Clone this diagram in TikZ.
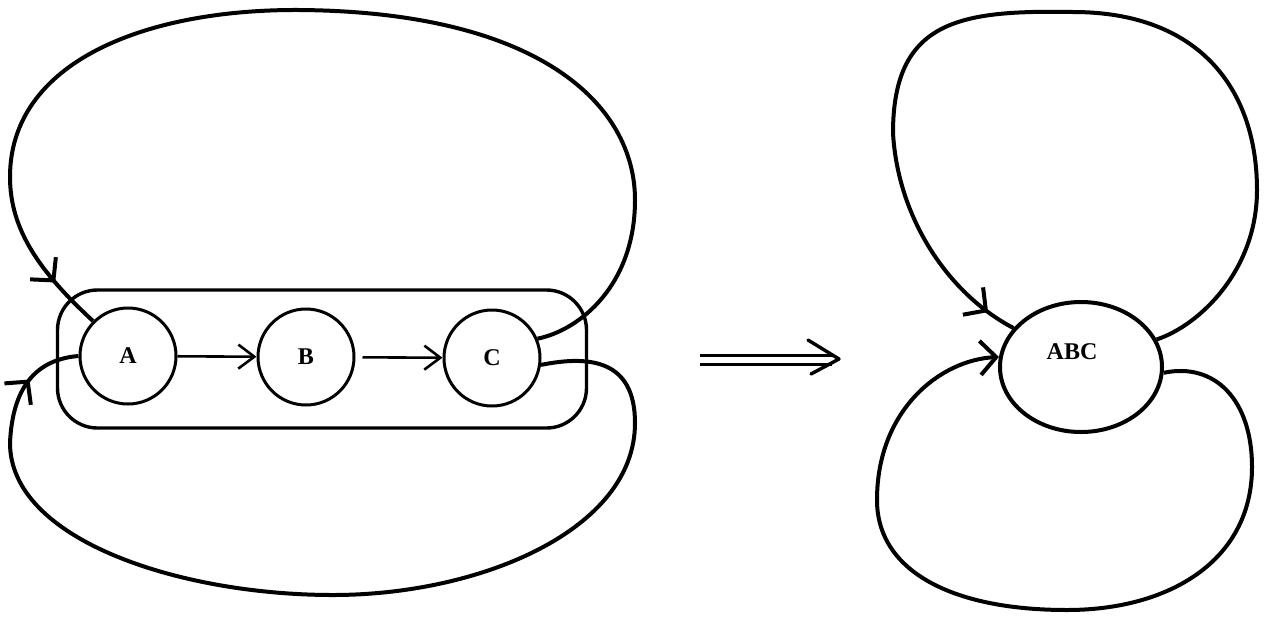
\documentclass[tikz,border=0pt]{standalone}
\usepackage{fontspec}
\setmainfont{Liberation Serif}
\usetikzlibrary{arrows.meta,decorations.markings,shapes.geometric}
\begin{document}
\begin{tikzpicture}[x=0.5pt,y=-0.5pt,
  state/.style={circle,draw,line width=1.5pt,minimum size=48pt,inner sep=0pt,
    font=\fontsize{12}{14}\selectfont\bfseries},
  groupbox/.style={draw,rounded corners=20pt,line width=1.7pt,minimum width=264.5pt,
    minimum height=69pt,inner sep=0pt},
  merged/.style={ellipse,draw,line width=2pt,minimum width=81pt,minimum height=65pt,inner sep=0pt},
  loopline/.style={draw,line width=2pt},
  midarrow/.style={postaction={decorate},decoration={markings,
    mark=at position #1 with {\arrow[line width=2pt]{Straight Barb[length=8pt,width=17pt]}}}},
  flow/.style={draw,line width=1.3pt,-{Straight Barb[length=8pt,width=12pt]}},
]
\useasboundingbox (0,0) rectangle (1270,617);

% left: group box and states
\node[groupbox] (G) at (322,359) {};
\node[state] (A) at (128,356) {A};
\node[state] (B) at (306,357) {B};
\node[state] (C) at (492,358) {C};

\draw[flow] (A) -- (B);
\draw[flow, shorten <=3.5pt] (B) -- (C);

% upper loop C -> A
\draw[loopline, midarrow=-27pt] (C.23) .. controls (580,330) and (635,285) .. (635,200)
  .. controls (635,105) and (540,12) .. (300,10)
  .. controls (145,9) and (10,62) .. (10,177)
  .. controls (10,230) and (40,272) .. (A.135);

% lower loop C -> A
\draw[loopline, midarrow=-28pt] (C.-8) .. controls (590,355) and (635,360) .. (635,423)
  .. controls (635,530) and (480,595) .. (333,595)
  .. controls (180,595) and (10,540) .. (10,443)
  .. controls (12,398) and (28,360) .. (A.west);

% implication arrow
\coordinate (I1) at (700,360);
\coordinate (I2) at (832,360);
\coordinate (I3) at (839,359);
\draw[line width=1.3pt, double, double distance=3.4pt] (I1) -- (I2);
\draw[line width=1.7pt, line cap=round, line join=round]
  ([shift={(-31,-19)}]I3) .. controls ([shift={(-15,-10)}]I3) .. (I3)
  .. controls ([shift={(-14,7)}]I3) .. ([shift={(-28,15)}]I3);

% right: merged state
\node[merged, label={[font=\fontsize{12}{14}\selectfont\bfseries, xshift=-4.5pt, yshift=7.5pt]center:ABC}] (ABC) at (1081,367) {};

% upper loop on ABC
\draw[loopline, midarrow=-15pt] (ABC.20) .. controls (1200,325) and (1257,270) .. (1257,190)
  .. controls (1257,90) and (1200,12) .. (1073,12)
  .. controls (960,10) and (893,20) .. (893,133)
  .. controls (898,220) and (950,295) .. (ABC.150);

% lower loop on ABC
\draw[loopline, -{Straight Barb[length=8pt,width=17pt]}] (ABC.-4) .. controls (1215,362) and (1252,400) .. (1252,467)
  .. controls (1252,560) and (1170,610) .. (1067,610)
  .. controls (950,610) and (877,570) .. (877,500)
  .. controls (877,410) and (940,360) .. (ABC.173);
\end{tikzpicture}
\end{document}
